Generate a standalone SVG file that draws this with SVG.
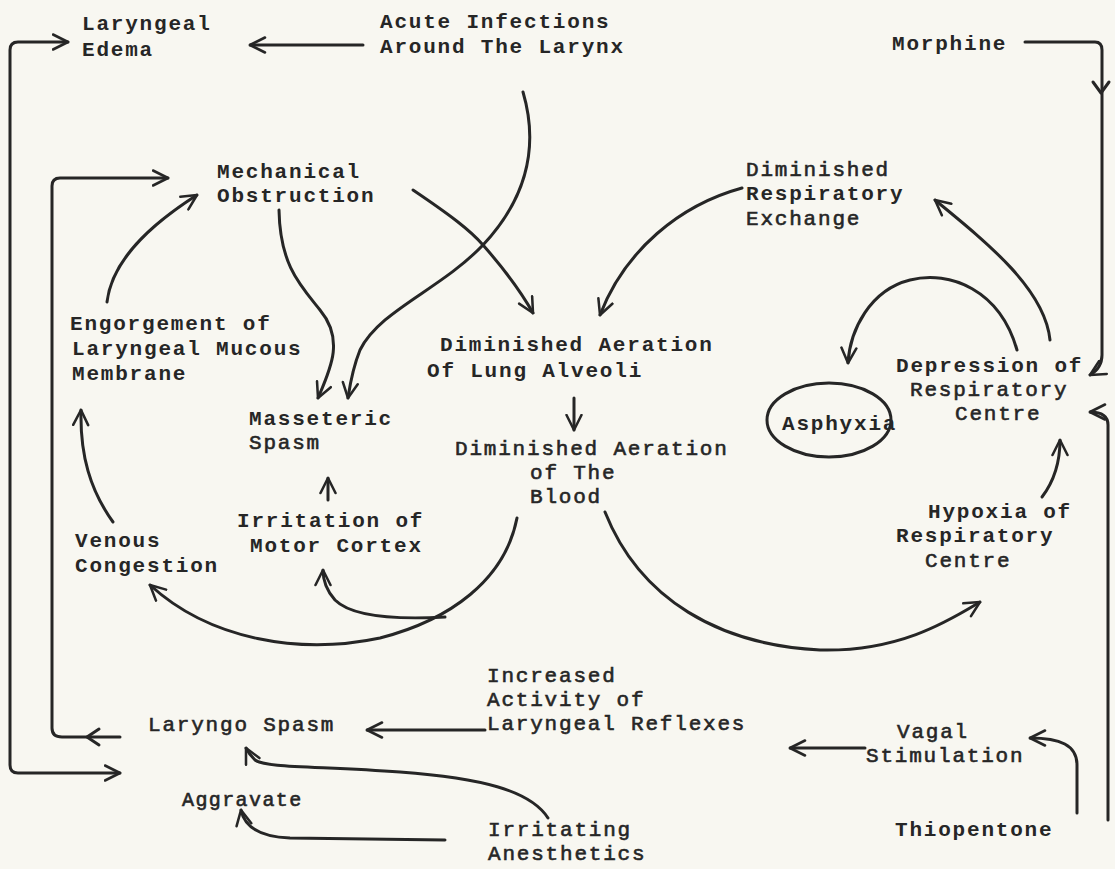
<svg xmlns="http://www.w3.org/2000/svg" width="1115" height="869" viewBox="0 0 1115 869">
<style>
.t{font-family:"Liberation Mono","DejaVu Sans Mono",monospace;font-size:21px;letter-spacing:1.8px;font-weight:bold;fill:#262626;}
.l{font-weight:normal;stroke:#262626;stroke-width:0.6;}
.c{fill:none;stroke:#262626;stroke-width:3;stroke-linecap:round;stroke-linejoin:round;}
.h{marker-end:url(#ah);}
</style>
<defs>
<marker id="ah" viewBox="0 0 12 12" refX="11" refY="6" markerWidth="18" markerHeight="18" markerUnits="userSpaceOnUse" orient="auto-start-reverse">
<path d="M1,1 L11,6 L1,11" fill="none" stroke="#262626" stroke-width="1.7" stroke-linecap="round" stroke-linejoin="round"/>
</marker>
</defs>
<rect width="1115" height="869" fill="#f8f7f1"/>
<g id="connectors">
<path class="c h" d="M363,45 L250,45"/>
<path class="c h" style="marker-start:url(#ah)" d="M120,773 L18,773 Q10,773 10,765 L10,50 Q10,42 18,42 L68,42"/>
<path class="c" style="marker-start:url(#ah)" d="M168,178 L60,178 Q52,178 52,186 L52,728 Q52,737 62,737 L120,737"/>
<path class="c" d="M99,729 L87,737 L99,745"/>
<path class="c h" d="M107,302 C112,260 150,225 197,195"/>
<path class="c h" d="M113,522 C90,490 80,455 81,410"/>
<path class="c h" d="M279,210 C280,265 300,285 320,310 C345,340 330,370 318,398"/>
<path class="c h" d="M523,92 C540,150 525,200 483,245 C440,290 380,310 360,350 C352,370 350,385 348,398"/>
<path class="c h" d="M413,190 C450,215 470,230 483,245 C505,270 520,290 533,313"/>
<path class="c h" d="M742,188 C680,205 625,250 600,315"/>
<path class="c h" d="M574,398 L574,430"/>
<path class="c h" d="M328,500 L328,478"/>
<path class="c h" d="M517,518 C505,580 450,620 380,638 C300,655 210,640 150,585"/>
<path class="c h" d="M445,617 C390,620 350,615 335,600 C326,590 323,580 323,570"/>
<path class="c h" d="M605,512 C640,600 720,645 820,650 C900,652 950,620 980,602"/>
<path class="c h" d="M1042,497 C1055,480 1060,460 1060,440"/>
<path class="c h" d="M1017,350 C1000,290 950,270 910,280 C870,290 850,330 848,363"/>
<path class="c h" d="M1050,340 C1045,290 990,245 935,200"/>
<path class="c h" d="M1025,42 L1095,42 Q1102,42 1102,50 L1102,355 Q1102,368 1090,375"/>
<path class="c" d="M1093,82 L1101,93 L1109,82"/>
<path class="c h" d="M1108,820 L1108,425 Q1108,412 1090,412"/>
<path class="c h" d="M1077,813 L1077,765 C1077,745 1060,738 1030,738"/>
<path class="c h" d="M865,748 L790,748"/>
<path class="c h" d="M485,730 L367,730"/>
<path class="c h" d="M548,818 C530,790 480,778 400,772 C320,766 265,768 255,760 C250,755 248,752 246,748"/>
<path class="c h" d="M445,840 L290,838 C265,837 245,830 241,810"/>
</g>
<g id="laryngeal-edema"><text class="t" x="82" y="30">Laryngeal</text><text class="t" x="82" y="56">Edema</text></g>
<g id="acute-infections"><text class="t" x="380" y="28">Acute Infections</text><text class="t" x="380" y="53">Around The Larynx</text></g>
<g id="morphine"><text class="t" x="892" y="50">Morphine</text></g>
<g id="mechanical-obstruction"><text class="t" x="217" y="178">Mechanical</text><text class="t" x="217" y="202">Obstruction</text></g>
<g id="diminished-respiratory-exchange"><text class="t l" x="746" y="176">Diminished</text><text class="t" x="746" y="200">Respiratory</text><text class="t l" x="746" y="225">Exchange</text></g>
<g id="engorgement"><text class="t" x="70" y="330">Engorgement of</text><text class="t" x="72" y="355">Laryngeal Mucous</text><text class="t" x="72" y="380">Membrane</text></g>
<g id="diminished-aeration-lung"><text class="t" x="440" y="351">Diminished Aeration</text><text class="t" x="427" y="377">Of Lung Alveoli</text></g>
<g id="masseteric-spasm"><text class="t" x="249" y="425">Masseteric</text><text class="t l" x="249" y="449">Spasm</text></g>
<g id="diminished-aeration-blood"><text class="t l" x="455" y="455">Diminished Aeration</text><text class="t l" x="530" y="479">of The</text><text class="t l" x="530" y="503">Blood</text></g>
<g id="asphyxia"><ellipse cx="829" cy="420" rx="62" ry="37" fill="none" stroke="#262626" stroke-width="3"/><text class="t" x="782" y="430">Asphyxia</text></g>
<g id="depression"><text class="t" x="896" y="372">Depression of</text><text class="t l" x="910" y="396">Respiratory</text><text class="t l" x="955" y="420">Centre</text></g>
<g id="irritation-motor-cortex"><text class="t" x="237" y="527">Irritation of</text><text class="t" x="250" y="552">Motor Cortex</text></g>
<g id="venous-congestion"><text class="t" x="75" y="547">Venous</text><text class="t" x="75" y="572">Congestion</text></g>
<g id="hypoxia"><text class="t" x="928" y="518">Hypoxia of</text><text class="t" x="896" y="542">Respiratory</text><text class="t l" x="925" y="567">Centre</text></g>
<g id="increased-activity"><text class="t l" x="487" y="682">Increased</text><text class="t l" x="487" y="706">Activity of</text><text class="t l" x="487" y="730">Laryngeal Reflexes</text></g>
<g id="laryngo-spasm"><text class="t l" x="148" y="731">Laryngo Spasm</text></g>
<g id="aggravate"><text class="t l" x="182" y="806" style="font-size:20px;letter-spacing:1.4px">Aggravate</text></g>
<g id="irritating-anesthetics"><text class="t l" x="488" y="836">Irritating</text><text class="t l" x="488" y="860">Anesthetics</text></g>
<g id="vagal-stimulation"><text class="t l" x="897" y="738">Vagal</text><text class="t l" x="866" y="762">Stimulation</text></g>
<g id="thiopentone"><text class="t" x="895" y="836">Thiopentone</text></g>
</svg>
